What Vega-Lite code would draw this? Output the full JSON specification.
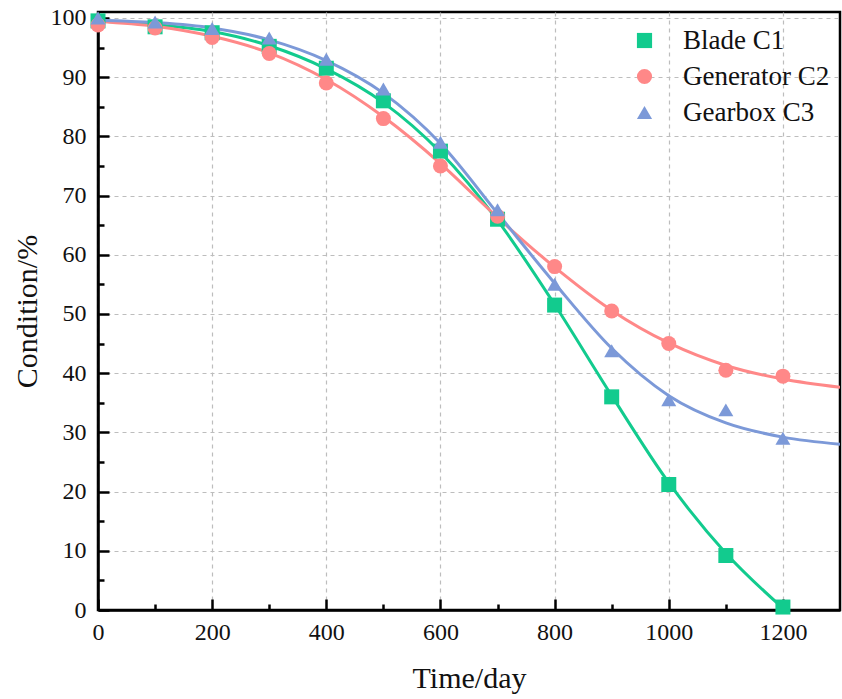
{
  "$schema": "https://vega.github.io/schema/vega-lite/v6.json",
  "width": 742,
  "height": 598,
  "autosize": {"type": "none"},
  "padding": {"left": 98, "top": 12, "right": 2, "bottom": 89},
  "background": "white",
  "config": {
    "view": {"stroke": "black", "strokeWidth": 2.5},
    "font": "Liberation Serif, Times New Roman, serif",
    "style": {
      "guide-label": {"font": "Liberation Serif, Times New Roman, serif"},
      "guide-title": {"font": "Liberation Serif, Times New Roman, serif"}
    },
    "axis": {
      "labelFont": "Liberation Serif, Times New Roman, serif",
      "titleFont": "Liberation Serif, Times New Roman, serif",
      "labelFontSize": 24,
      "titleFontSize": 30,
      "titleFontWeight": "normal",
      "labelColor": "#111",
      "titleColor": "#111",
      "domainColor": "black",
      "domainWidth": 2.5,
      "tickColor": "black",
      "tickWidth": 2.5,
      "gridColor": "#BDBDBD",
      "gridDash": [4, 4],
      "gridWidth": 1.2
    },
    "legend": {
      "labelFont": "Liberation Serif, Times New Roman, serif",
      "labelFontSize": 27,
      "labelColor": "#111",
      "symbolSize": 230,
      "symbolStrokeWidth": 0,
      "labelOffset": 25,
      "rowPadding": 8,
      "padding": 0
    }
  },
  "datasets": {
    "curves": [
      {"day": 0, "value": 99.5, "series": "Blade C1"},
      {"day": 100, "value": 98.9, "series": "Blade C1"},
      {"day": 200, "value": 97.7, "series": "Blade C1"},
      {"day": 300, "value": 95.3, "series": "Blade C1"},
      {"day": 400, "value": 91.4, "series": "Blade C1"},
      {"day": 500, "value": 85.7, "series": "Blade C1"},
      {"day": 600, "value": 77.3, "series": "Blade C1"},
      {"day": 700, "value": 65.8, "series": "Blade C1"},
      {"day": 800, "value": 51.6, "series": "Blade C1"},
      {"day": 900, "value": 36.2, "series": "Blade C1"},
      {"day": 1000, "value": 21.5, "series": "Blade C1"},
      {"day": 1100, "value": 9.6, "series": "Blade C1"},
      {"day": 1200, "value": 0.3, "series": "Blade C1"},
      {"day": 0, "value": 99.4, "series": "Generator C2"},
      {"day": 100, "value": 98.6, "series": "Generator C2"},
      {"day": 200, "value": 96.9, "series": "Generator C2"},
      {"day": 300, "value": 94.1, "series": "Generator C2"},
      {"day": 400, "value": 89.6, "series": "Generator C2"},
      {"day": 500, "value": 83.3, "series": "Generator C2"},
      {"day": 600, "value": 75.4, "series": "Generator C2"},
      {"day": 700, "value": 66.3, "series": "Generator C2"},
      {"day": 800, "value": 57.9, "series": "Generator C2"},
      {"day": 900, "value": 50.6, "series": "Generator C2"},
      {"day": 1000, "value": 45.1, "series": "Generator C2"},
      {"day": 1100, "value": 41.3, "series": "Generator C2"},
      {"day": 1200, "value": 39.0, "series": "Generator C2"},
      {"day": 1300, "value": 37.6, "series": "Generator C2"},
      {"day": 0, "value": 99.6, "series": "Gearbox C3"},
      {"day": 100, "value": 99.2, "series": "Gearbox C3"},
      {"day": 200, "value": 98.3, "series": "Gearbox C3"},
      {"day": 300, "value": 96.3, "series": "Gearbox C3"},
      {"day": 400, "value": 92.8, "series": "Gearbox C3"},
      {"day": 500, "value": 87.3, "series": "Gearbox C3"},
      {"day": 600, "value": 78.8, "series": "Gearbox C3"},
      {"day": 700, "value": 67.0, "series": "Gearbox C3"},
      {"day": 800, "value": 55.2, "series": "Gearbox C3"},
      {"day": 900, "value": 44.2, "series": "Gearbox C3"},
      {"day": 1000, "value": 36.2, "series": "Gearbox C3"},
      {"day": 1100, "value": 31.6, "series": "Gearbox C3"},
      {"day": 1200, "value": 29.2, "series": "Gearbox C3"},
      {"day": 1300, "value": 28.0, "series": "Gearbox C3"}
    ],
    "points": [
      {"day": 0, "value": 99.5, "series": "Blade C1"},
      {"day": 100, "value": 98.5, "series": "Blade C1"},
      {"day": 200, "value": 97.5, "series": "Blade C1"},
      {"day": 300, "value": 95.2, "series": "Blade C1"},
      {"day": 400, "value": 91.5, "series": "Blade C1"},
      {"day": 500, "value": 86, "series": "Blade C1"},
      {"day": 600, "value": 77.5, "series": "Blade C1"},
      {"day": 700, "value": 66, "series": "Blade C1"},
      {"day": 800, "value": 51.5, "series": "Blade C1"},
      {"day": 900, "value": 36, "series": "Blade C1"},
      {"day": 1000, "value": 21.2, "series": "Blade C1"},
      {"day": 1100, "value": 9.2, "series": "Blade C1"},
      {"day": 1200, "value": 0.5, "series": "Blade C1"},
      {"day": 0, "value": 98.8, "series": "Generator C2"},
      {"day": 100, "value": 98.3, "series": "Generator C2"},
      {"day": 200, "value": 96.7, "series": "Generator C2"},
      {"day": 300, "value": 94, "series": "Generator C2"},
      {"day": 400, "value": 89, "series": "Generator C2"},
      {"day": 500, "value": 83, "series": "Generator C2"},
      {"day": 600, "value": 75, "series": "Generator C2"},
      {"day": 700, "value": 66.5, "series": "Generator C2"},
      {"day": 800, "value": 58, "series": "Generator C2"},
      {"day": 900, "value": 50.5, "series": "Generator C2"},
      {"day": 1000, "value": 45, "series": "Generator C2"},
      {"day": 1100, "value": 40.5, "series": "Generator C2"},
      {"day": 1200, "value": 39.5, "series": "Generator C2"},
      {"day": 0, "value": 100, "series": "Gearbox C3"},
      {"day": 100, "value": 99.3, "series": "Gearbox C3"},
      {"day": 200, "value": 98.2, "series": "Gearbox C3"},
      {"day": 300, "value": 96.6, "series": "Gearbox C3"},
      {"day": 400, "value": 93, "series": "Gearbox C3"},
      {"day": 500, "value": 88, "series": "Gearbox C3"},
      {"day": 600, "value": 79, "series": "Gearbox C3"},
      {"day": 700, "value": 67.6, "series": "Gearbox C3"},
      {"day": 800, "value": 55, "series": "Gearbox C3"},
      {"day": 900, "value": 43.8, "series": "Gearbox C3"},
      {"day": 1000, "value": 35.5, "series": "Gearbox C3"},
      {"day": 1100, "value": 33.8, "series": "Gearbox C3"},
      {"day": 1200, "value": 29, "series": "Gearbox C3"}
    ]
  },
  "resolve": {"axis": {"x": "independent", "y": "independent"}},
  "layer": [
    {
      "data": {"name": "curves"},
      "mark": {"type": "line", "interpolate": "monotone", "strokeWidth": 3, "clip": true},
      "encoding": {
        "x": {
          "field": "day",
          "type": "quantitative",
          "scale": {"domain": [0, 1300], "nice": false, "zero": false},
          "axis": {
            "orient": "bottom",
            "title": "Time/day",
            "format": "d",
            "values": [0, 200, 400, 600, 800, 1000, 1200],
            "labelFont": "Liberation Serif, Times New Roman, serif",
            "titleFont": "Liberation Serif, Times New Roman, serif",
            "tickSize": -11,
            "labelPadding": 21,
            "labelFlush": false,
            "titlePadding": 19
          }
        },
        "y": {
          "field": "value",
          "type": "quantitative",
          "scale": {"domain": [0, 101], "nice": false, "zero": false},
          "axis": {
            "orient": "left",
            "title": "Condition/%",
            "format": "d",
            "values": [0, 10, 20, 30, 40, 50, 60, 70, 80, 90, 100],
            "labelFont": "Liberation Serif, Times New Roman, serif",
            "titleFont": "Liberation Serif, Times New Roman, serif",
            "tickSize": -11,
            "labelPadding": 23,
            "labelFlush": false,
            "titlePadding": 8
          }
        },
        "stroke": {
          "field": "series",
          "type": "nominal",
          "scale": {"range": ["#12CB8E", "#7C99D8", "#FF8888"]},
          "legend": null
        }
      }
    },
    {
      "data": {"name": "points"},
      "mark": {"type": "point", "filled": true, "opacity": 1, "size": 225, "clip": false},
      "encoding": {
        "x": {
          "field": "day",
          "type": "quantitative",
          "axis": {
            "orient": "bottom",
            "offset": 0,
            "title": null,
            "values": [100, 300, 500, 700, 900, 1100],
            "labels": false,
            "grid": false,
            "domain": false,
            "tickSize": -6
          }
        },
        "y": {
          "field": "value",
          "type": "quantitative",
          "axis": {
            "orient": "left",
            "offset": 0,
            "title": null,
            "values": [5, 15, 25, 35, 45, 55, 65, 75, 85, 95],
            "labels": false,
            "grid": false,
            "domain": false,
            "tickSize": -6
          }
        },
        "color": {
          "field": "series",
          "type": "nominal",
          "scale": {"domain": ["Blade C1", "Generator C2", "Gearbox C3"], "range": ["#12CB8E", "#FF8888", "#7C99D8"]},
          "legend": {"title": null, "orient": "none", "legendX": 533, "legendY": 15, "labelFont": "Liberation Serif, Times New Roman, serif"}
        },
        "shape": {
          "field": "series",
          "type": "nominal",
          "scale": {"domain": ["Blade C1", "Generator C2", "Gearbox C3"], "range": ["square", "circle", "triangle-up"]},
          "legend": {"title": null, "orient": "none", "legendX": 533, "legendY": 15, "labelFont": "Liberation Serif, Times New Roman, serif"}
        }
      }
    }
  ]
}
